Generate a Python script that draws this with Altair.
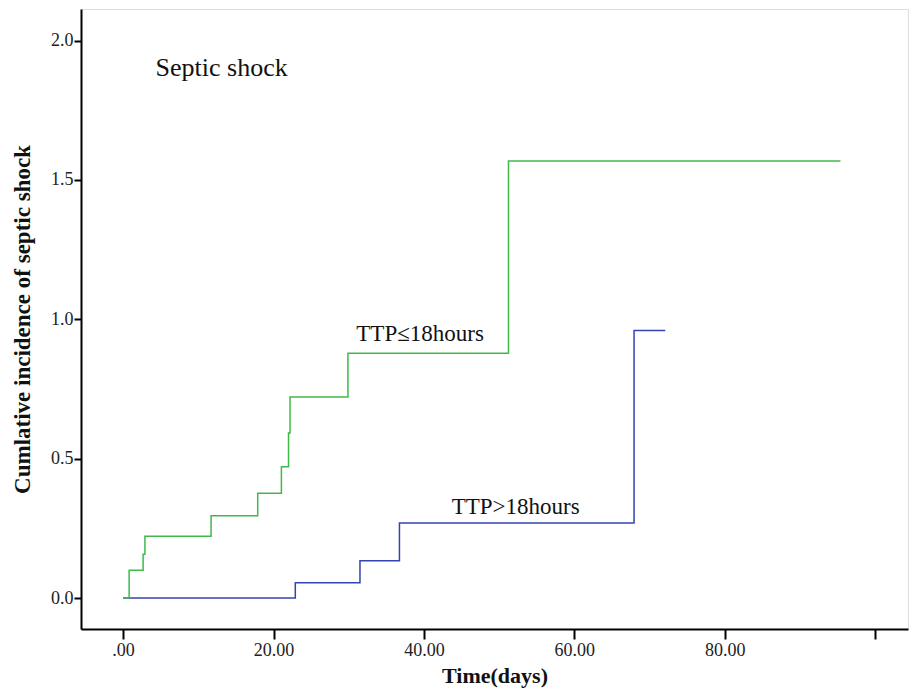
import altair as alt
import pandas as pd

# Data
green_times = [0, 0.8, 2.66, 2.9, 11.7, 17.9, 21.05, 22.0, 22.2, 29.9, 51.25, 95.4]
green_values = [0, 0.10, 0.157, 0.222, 0.295, 0.376, 0.471, 0.592, 0.721, 0.878, 1.568, 1.568]
blue_times = [0, 22.9, 31.5, 36.75, 67.95, 72.1]
blue_values = [0, 0.055, 0.134, 0.269, 0.96, 0.96]

group_names = ["TTP>18hours", "TTP≤18hours"]
label_x = [52.2, 39.5]
label_y = [0.3265, 0.947]

title_text = ["Septic shock"]
title_x = [13.1]
title_y = [1.90]

x_ticks = [0, 20, 40, 60, 80, 100]
y_ticks = [0.0, 0.5, 1.0, 1.5, 2.0]

FONT = "Liberation Serif"
GREEN = "#3fb94a"
BLUE = "#3443b0"

rows = []
for t, v in zip(blue_times, blue_values):
    rows.append({"time": t, "value": v, "group": group_names[0], "order": 0})
for t, v in zip(green_times, green_values):
    rows.append({"time": t, "value": v, "group": group_names[1], "order": 1})
df = pd.DataFrame(rows)

labels_df = pd.DataFrame({"x": label_x, "y": label_y, "text": group_names})
title_df = pd.DataFrame({"x": title_x, "y": title_y, "text": title_text})

xscale = alt.Scale(domain=[-5.6, 104.38], nice=False, zero=False)
yscale = alt.Scale(domain=[-0.111, 2.113], nice=False, zero=False)

x_axis = alt.Axis(
    values=x_ticks,
    labelExpr="datum.value == 0 ? '.00' : (datum.value == 100 ? '' : format(datum.value, '.2f'))",
    title="Time(days)",
    grid=False,
    tickSize=10,
    tickWidth=2,
    tickColor="black",
    domainColor="black",
    domainWidth=2,
    labelFont=FONT,
    labelFontSize=18,
    labelColor="#222222",
    labelPadding=2,
    titleFont=FONT,
    titleFontSize=22,
    titleFontWeight="bold",
    titleColor="#111111",
    titlePadding=6,
)
y_axis = alt.Axis(
    values=y_ticks,
    format=".1f",
    title="Cumlative incidence of septic shock",
    grid=False,
    tickSize=7,
    tickWidth=2,
    tickColor="black",
    domainColor="black",
    domainWidth=2,
    labelFont=FONT,
    labelFontSize=18,
    labelColor="#222222",
    labelPadding=1,
    titleFont=FONT,
    titleFontSize=23,
    titleFontWeight="bold",
    titleColor="#111111",
    titlePadding=16,
)

lines = alt.Chart(df).mark_line(interpolate="step-after", strokeWidth=1.5).encode(
    x=alt.X("time:Q", scale=xscale, axis=x_axis),
    y=alt.Y("value:Q", scale=yscale, axis=y_axis),
    color=alt.Color("group:N", scale=alt.Scale(domain=group_names, range=[BLUE, GREEN]), legend=None),
    detail="group:N",
    order="order:Q",
)

group_text = alt.Chart(labels_df).mark_text(font=FONT, fontSize=23, color="#111111").encode(
    x=alt.X("x:Q", scale=xscale),
    y=alt.Y("y:Q", scale=yscale),
    text="text:N",
)

title_mark = alt.Chart(title_df).mark_text(font=FONT, fontSize=26, color="#111111").encode(
    x=alt.X("x:Q", scale=xscale),
    y=alt.Y("y:Q", scale=yscale),
    text="text:N",
)

chart = alt.layer(lines, group_text, title_mark).properties(
    width=827,
    height=620,
    autosize=alt.AutoSizeParams(type="none"),
    padding={"left": 73, "top": 1, "right": 1, "bottom": 60},
).configure_view(
    stroke="black",
    strokeWidth=2,
).configure(background="white")

chart.save("out.html", embed_options={"renderer": "svg", "actions": False})
